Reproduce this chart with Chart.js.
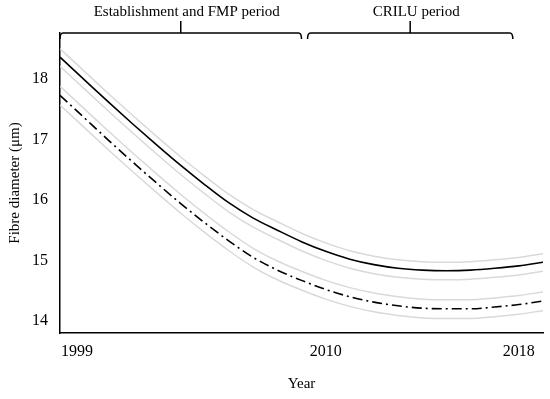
<!DOCTYPE html>
<html>
<head>
<meta charset="utf-8">
<script src="https://cdn.jsdelivr.net/npm/chart.js@4/dist/chart.umd.min.js"></script>
<style>
  html, body { margin: 0; padding: 0; background: #fff; }
  #wrap { width: 550px; height: 399px; position: relative; }
</style>
</head>
<body>
<div id="wrap"><canvas id="chart"></canvas></div>
<script>
// years along the x axis
const years = [1999, 2000, 2001, 2002, 2003, 2004, 2005, 2006, 2007, 2008, 2009,
               2010, 2011, 2012, 2013, 2014, 2015, 2016, 2017, 2018, 2019];

// solid black curve and its light grey band
const solidLine  = [18.36, 17.99, 17.62, 17.26, 16.91, 16.57, 16.25, 15.95, 15.70, 15.50, 15.31,
                    15.15, 15.02, 14.93, 14.87, 14.84, 14.83, 14.84, 14.87, 14.91, 14.97];
const solidUpper = [18.50, 18.13, 17.76, 17.40, 17.05, 16.71, 16.39, 16.09, 15.84, 15.64, 15.45,
                    15.29, 15.16, 15.07, 15.01, 14.98, 14.97, 14.98, 15.01, 15.05, 15.11];
const solidLower = [18.21, 17.84, 17.47, 17.11, 16.76, 16.42, 16.10, 15.80, 15.55, 15.35, 15.16,
                    15.00, 14.87, 14.78, 14.72, 14.69, 14.68, 14.69, 14.72, 14.76, 14.82];

// dash-dot curve and its band
const dashLine  = [17.73, 17.36, 16.99, 16.63, 16.28, 15.94, 15.62, 15.32, 15.05, 14.84, 14.67,
                   14.52, 14.40, 14.31, 14.25, 14.21, 14.20, 14.20, 14.23, 14.27, 14.33];
const dashUpper = [17.88, 17.51, 17.14, 16.78, 16.43, 16.09, 15.77, 15.47, 15.20, 14.99, 14.82,
                   14.67, 14.55, 14.46, 14.40, 14.36, 14.35, 14.35, 14.38, 14.42, 14.48];
const dashLower = [17.57, 17.20, 16.83, 16.47, 16.12, 15.78, 15.46, 15.16, 14.89, 14.68, 14.51,
                   14.36, 14.24, 14.15, 14.09, 14.05, 14.04, 14.04, 14.07, 14.11, 14.17];

const xTickYears = [1999, 2010, 2018];
const yTickValues = [14, 15, 16, 17, 18];

// bracketed periods above the plot
const periodLabels = ['Establishment and FMP period', 'CRILU period'];
const periodStart = [1999, 2009.25];
const periodEnd = [2009, 2017.75];

const FONT = 'Liberation Serif';

function pts(vals) {
    return years.map((y, i) => ({ x: y, y: vals[i] }));
}

function band(vals) {
    return {
        data: pts(vals), borderColor: '#d9d9d9', borderWidth: 1.5,
        pointRadius: 0, fill: false, cubicInterpolationMode: 'monotone'
    };
}

const bracketPlugin = {
    id: 'brackets',
    afterDraw(chart) {
        const ctx = chart.ctx;
        const xs = chart.scales.x;
        const top = chart.chartArea.top;
        ctx.save();
        ctx.strokeStyle = '#000';
        ctx.lineWidth = 1.5;
        ctx.fillStyle = '#000';
        ctx.font = '15px "' + FONT + '"';
        ctx.textAlign = 'center';
        ctx.textBaseline = 'middle';
        for (let i = 0; i < periodLabels.length; i++) {
            const a = xs.getPixelForValue(periodStart[i]);
            const b = xs.getPixelForValue(periodEnd[i]);
            const m = (a + b) / 2;
            ctx.beginPath();
            ctx.moveTo(a, top + 6);
            ctx.quadraticCurveTo(a, top, a + 3, top);
            ctx.lineTo(b - 3, top);
            ctx.quadraticCurveTo(b, top, b, top + 6);
            ctx.moveTo(m, top);
            ctx.lineTo(m, top - 12);
            ctx.stroke();
            ctx.fillText(periodLabels[i], m + 6, 12);
        }
        ctx.restore();
    }
};

new Chart(document.getElementById('chart'), {
    type: 'line',
    data: {
        datasets: [
            band(solidUpper), band(solidLower), band(dashUpper), band(dashLower),
            {
                data: pts(solidLine), borderColor: '#000', borderWidth: 1.6,
                pointRadius: 0, fill: false, cubicInterpolationMode: 'monotone'
            },
            {
                data: pts(dashLine), borderColor: '#000', borderWidth: 1.6,
                borderDash: [10, 4, 2, 4],
                pointRadius: 0, fill: false, cubicInterpolationMode: 'monotone'
            }
        ]
    },
    options: {
        responsive: true,
        maintainAspectRatio: false,
        animation: false,
        layout: { padding: { top: 33, right: 7, left: 0, bottom: 0 } },
        plugins: { legend: { display: false }, tooltip: { enabled: false } },
        scales: {
            x: {
                type: 'linear', min: 1999, max: 2019,
                grid: { display: false, drawTicks: false },
                border: { display: true, color: '#000', width: 1.5 },
                afterBuildTicks: (s) => {
                    // first label sits a little inside the axis, as in the source
                    s.ticks = xTickYears.map(v => ({ value: v === s.min ? v + 0.7 : v }));
                },
                afterFit: (s) => { s.height = 66; },
                ticks: {
                    padding: 9, color: '#000', maxRotation: 0,
                    font: { family: FONT, size: 16 },
                    callback: (v) => String(Math.floor(v))
                },
                title: {
                    display: true, text: 'Year', color: '#000',
                    font: { family: FONT, size: 15 },
                    padding: { top: 0, bottom: 6 }
                }
            },
            y: {
                min: 13.8, max: 18.76,
                grid: { display: false, drawTicks: false },
                border: { display: true, color: '#000', width: 1.5 },
                afterBuildTicks: (s) => { s.ticks = yTickValues.map(v => ({ value: v })); },
                afterFit: (s) => { s.width = 60; },
                ticks: {
                    padding: 12, color: '#000',
                    font: { family: FONT, size: 16 }
                },
                title: {
                    display: true, text: 'Fibre diameter (μm)', color: '#000',
                    font: { family: FONT, size: 15 },
                    padding: { top: 6, bottom: 0 }
                }
            }
        }
    },
    plugins: [bracketPlugin]
});
</script>
</body>
</html>
